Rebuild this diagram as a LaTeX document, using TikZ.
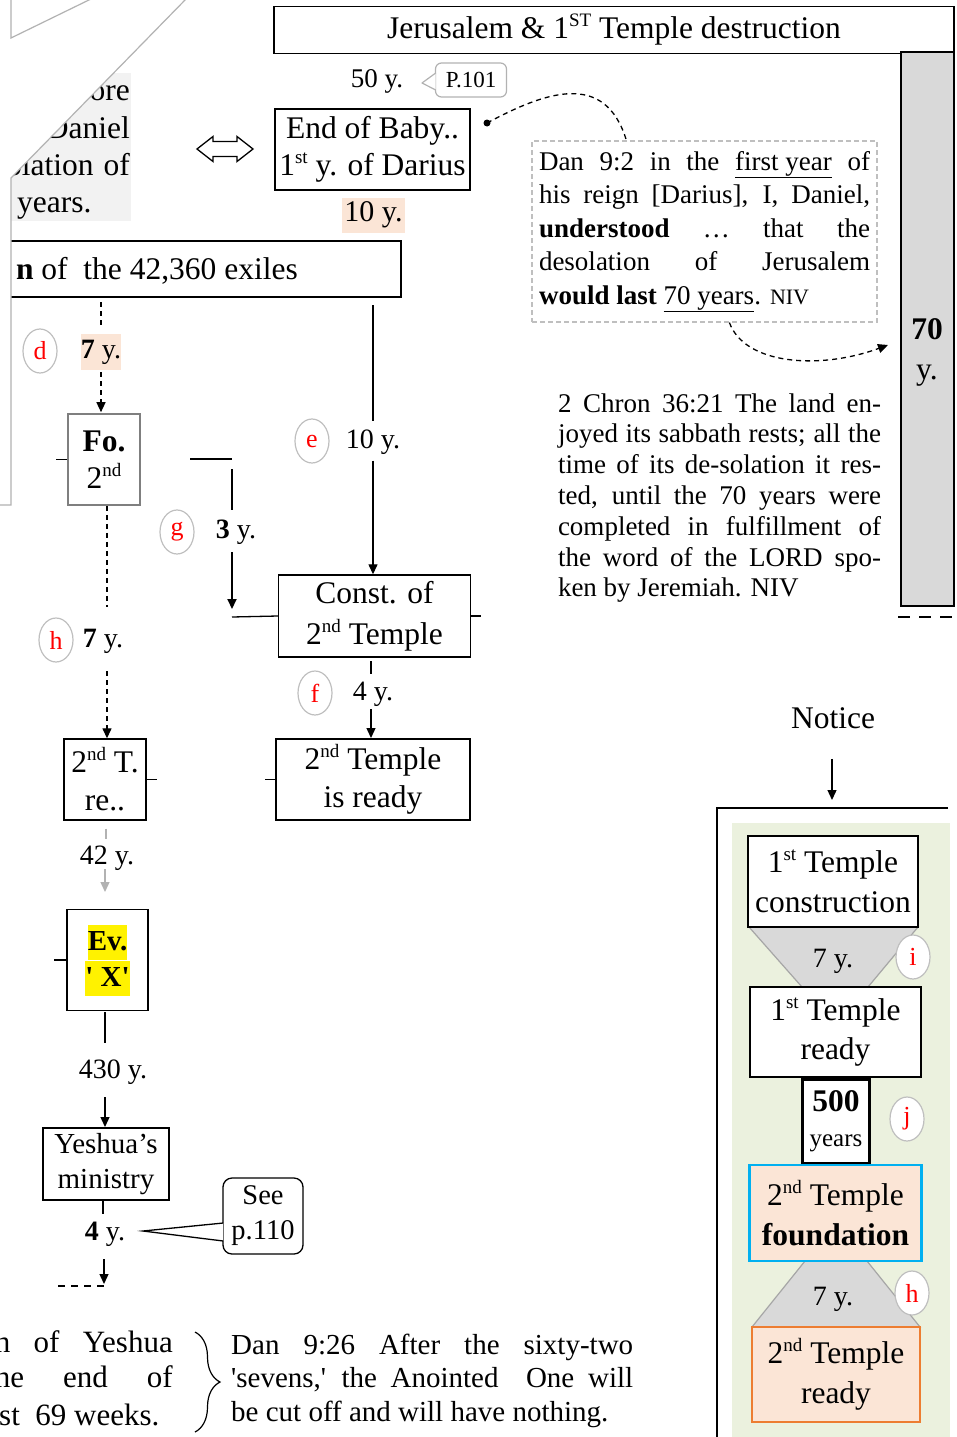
\documentclass[tikz,border=0pt]{standalone}
\usepackage{fontspec}
\setmainfont{Liberation Serif}[Ligatures=TeXOff]
\usetikzlibrary{shapes.geometric,arrows.meta,calc,decorations.pathreplacing}
\definecolor{peach}{HTML}{FBE5D6}
\definecolor{barGray}{HTML}{D9D9D9}
\definecolor{lightGray}{HTML}{F2F2F2}
\definecolor{paleGreen}{HTML}{EBF1DE}
\definecolor{cyanB}{HTML}{00B0F0}
\definecolor{orangeB}{HTML}{ED7D31}
\definecolor{circGray}{HTML}{BFBFBF}
\definecolor{boxGray}{HTML}{7F7F7F}
\newcommand\fntBox[1]{\fontsize{31.5}{#1}\selectfont}
\newcommand\fntLbl{\fontsize{28}{34}\selectfont}
\newcommand\fntTxt[1]{\fontsize{27}{#1}\selectfont}
\newcommand\supx[1]{\raisebox{12pt}{\fontsize{19}{19}\selectfont #1}}
\newcommand\hlt[1]{{\fboxsep=0pt\colorbox{yellow}{\rule[-9pt]{0pt}{35pt}#1}}}
\newcommand\jl[2]{\makebox[#1][s]{#2}}
\begin{document}
\begin{tikzpicture}[x=1pt,y=-1pt,
  bx/.style={draw, line width=1.4pt, inner sep=0pt, align=center},
  lbl/.style={inner sep=0pt, font=\fntLbl, align=center},
  circ/.style={ellipse, draw=circGray, line width=1.2pt, minimum width=34pt, minimum height=44pt, inner sep=0pt, text=red, font=\fontsize{26}{30}\selectfont},
  tip/.style={-{Triangle[length=10pt,width=9pt]}},
  ln/.style={line width=1.3pt},
  dsh/.style={line width=1.3pt, dash pattern=on 5pt off 4pt},
  tk/.style={line width=1.3pt},
  trap/.style={fill=barGray, draw=gray!70, line width=1.2pt},
]
\useasboundingbox (0,0) rectangle (956,1437);
\clip (0,0) rectangle (956,1437);

% ---------- top ----------
\node[bx, minimum width=680pt, minimum height=47pt, font=\fntBox{37}] (title) at (614,30) {Jerusalem \& 1\supx{ST} Temple destruction};
\node[bx, fill=barGray, line width=1.6pt, minimum width=53pt, minimum height=554pt] (bar) at (927.5,329) {};
\node[lbl, font=\fontsize{31.5}{40}\selectfont] (barlbl) at (927,352) {\textbf{70}\\y.};
\draw[line width=2.5pt, dash pattern=on 12pt off 9pt] ($(bar.south west)+(-2,10)$) -- ($(bar.south east)+(6,10)$);

\node[lbl, font=\fontsize{27}{32}\selectfont] (y50) at (377,81) {50 y.};
\node[draw=gray!60, line width=1.2pt, rounded corners=6pt, minimum width=71pt, minimum height=34pt, inner sep=0pt, font=\fontsize{23}{28}\selectfont] (p101) at (471,80) {P.101};
\coordinate (p101tip) at (422,83);
\filldraw[fill=white, draw=gray!60, line width=1.2pt, line join=round] ($(p101.west)+(0.8,-7)$) -- (p101tip) -- ($(p101.west)+(0.8,10)$);

\node[bx, minimum width=195pt, minimum height=81pt, font=\fntBox{37}] (baby) at (372.5,149.5) {End of Baby..\\1\supx{st} y. of Darius};
\filldraw[fill=white, line width=1.3pt, line join=miter] (197,149) -- (213,136.5) -- (213,141.5) -- (237,141.5) -- (237,136.5) -- (253,149) -- (237,161.5) -- (237,156.5) -- (213,156.5) -- (213,161.5) -- cycle;
\node[lbl, fill=peach, minimum width=63pt, minimum height=35pt, font=\fontsize{30}{34}\selectfont] (ten) at (373.5,215) {10 y.};

\node[draw=circGray, line width=1.2pt, dash pattern=on 5pt off 3pt, minimum width=345pt, minimum height=181pt, inner sep=0pt, align=left, font=\fntTxt{33.5}] (dan) at (704.5,231.5)
{\jl{331pt}{Dan 9:2 in the \underline{first year} of}\\
 \jl{331pt}{his reign [Darius], I, Daniel,}\\
 \jl{331pt}{\textbf{understood} … that the}\\
 \jl{331pt}{desolation of Jerusalem}\\
 \textbf{would last} \underline{70 years}. {\fontsize{22}{26}\selectfont NIV}};
\coordinate (dotA) at (487,123);
\fill (dotA) circle (3.5);
\draw[dsh] (dotA) .. controls (545,92) and (605,70) .. ($(dan.north west)+(95,0)$);
\coordinate (arrTip) at (888,345);
\draw[dsh, tip] ($(dan.south west)+(198,0)$) .. controls (745,365) and (820,370) .. (arrTip);

\node[inner sep=0pt, align=left, font=\fntTxt{30.8}] (chron) at (719.5,498)
{\jl{323pt}{2 Chron 36:21 The land en-}\\
 \jl{323pt}{joyed its sabbath rests; all the}\\
 \jl{323pt}{time of its de-solation it res-}\\
 \jl{323pt}{ted, until the 70 years were}\\
 \jl{323pt}{completed in fulfillment of}\\
 \jl{323pt}{the word of the LORD spo-}\\
 ken by Jeremiah. NIV};

% ---------- left ----------
\node[draw, line width=2.5pt, minimum width=421pt, minimum height=56pt, inner sep=0pt] (exiles) at (190.5,269) {};
\node[inner sep=0pt, anchor=base east, font=\fntBox{37}] (exilestxt) at (298,279) {\textbf{n} of\ \ the 42,360 exiles};

\fill[lightGray] (0,73) rectangle (131,221);
\node[inner sep=0pt, anchor=base east, font=\fntBox{37}] (gA) at (130,100) {ore};
\node[inner sep=0pt, anchor=base east, font=\fntBox{37}] (gB) at (130,138) {Daniel};
\node[inner sep=0pt, anchor=base east, font=\fntBox{37}] (gC) at (130,175) {desolation\hspace{10pt}of};
\node[inner sep=0pt, anchor=base west, font=\fntBox{37}] (gD) at (17,212) {years.};
\fill[white] (-2,-2) -- (187,-2) -- (11,178) -- (11,505) -- (-2,505) -- cycle;
\draw[gray!60, line width=1.2pt] (187,-2) -- (11,178) -- (11,505) -- (-2,505);
\draw[gray!60, line width=1.2pt] (11,-2) -- (11,38) -- (93,-2);

% d branch
\node[lbl, fill=peach, minimum height=36pt] (sevenD) at (101,352) {\textbf{7} y.};
\node[circ] (cd) at (40,351) {d};
\node[bx, draw=boxGray, line width=1.6pt, minimum width=72pt, minimum height=91pt, font=\fntBox{37}] (fo) at (104,459.5) {\textbf{Fo.}\\2\supx{nd}};
\draw[dsh] (exiles.south -| sevenD) ++(0,4) -- ++(0,24);
\draw[dsh, tip] ($(sevenD.south)+(0,2)$) -- ($(fo.north)+(-3,-1)$);
\draw[tk] (fo.west) -- ++(-11,0);

% g branch
\coordinate (gA1) at (190,459);
\coordinate (gA2) at (232,459);
\draw[ln] (gA1) -- (gA2);
\draw[line width=2pt] (232,469) -- (232,510);
\node[lbl] (threeY) at (236,532) {\textbf{3} y.};
\node[circ] (cg) at (177,532) {g};
\coordinate (gB1) at (232,552);
\coordinate (gB2) at (232,609);
\draw[line width=2pt, tip] (gB1) -- (gB2);

% e branch
\node[bx, minimum width=192pt, minimum height=82pt, font=\fntBox{41}] (const) at (374.5,616) {Const. of\\2\supx{nd} Temple};
\draw[ln] (232,617) -- (const.west);
\draw[tk] (const.east) -- ++(10,0);
\node[lbl] (tenE) at (373,442) {10 y.};
\node[circ] (ce) at (312,441) {e};
\draw[ln] (373,305) -- ($(tenE.north)+(0,-8)$);
\draw[ln, tip] ($(tenE.south)+(0,6)$) -- (const.north -| tenE);

% f branch
\node[lbl] (fourF) at (373,694) {4 y.};
\node[circ] (cf) at (315,693) {f};
\node[bx, minimum width=194pt, minimum height=81pt, font=\fntBox{38}] (ready) at (373,779.5) {2\supx{nd} Temple\\is ready};
\draw[tk] (ready.west) -- ++(-10,0);
\draw[ln] (371,661) -- (371,674);
\draw[ln, tip] (371,709) -- (371,738);

% h branch
\node[bx, minimum width=82pt, minimum height=81pt, font=\fntBox{38}] (tr) at (105,779.5) {2\supx{nd} T.\\re..};
\draw[tk] (tr.east) -- ++(10,0);
\node[lbl] (sevenH) at (103,641) {\textbf{7} y.};
\node[circ] (ch) at (56,640) {h};
\draw[dsh] ($(fo.south)+(3,0)$) -- (107,607);
\draw[dsh, tip] (107,671) -- ($(tr.north)+(2,0)$);

% lower left chain
\node[lbl] (fortyTwo) at (107,858) {42 y.};
\draw[gray!60, line width=1.3pt] ($(tr.south)+(1,8)$) -- ($(tr.south)+(1,18)$);
\draw[gray!60, line width=1.3pt, tip] (105,869) -- (105,892);
\node[bx, minimum width=81pt, minimum height=101pt, font=\fontsize{29}{36}\selectfont] (ev) at (107.5,960) {\hlt{\textbf{Ev.}}\\\hlt{\textbf{' X'}}};
\draw[tk] (ev.west) -- ++(-12,0);
\node[lbl] (fourThirty) at (113,1072) {430 y.};
\node[bx, minimum width=126pt, minimum height=72pt, font=\fontsize{29}{35}\selectfont] (yesh) at (106,1164) {Yeshua’s\\ministry};
\draw[ln] (105,1012) -- (105,1043);
\draw[ln, tip] (105,1097) -- (105,1127);
\node[lbl] (fourY) at (105,1234) {\textbf{4} y.};
\draw[ln] (103,1201) -- (103,1214);
\coordinate (yEnd) at (104,1284);
\draw[ln, tip] (104,1259) -- (yEnd);
\draw[ln, dash pattern=on 7pt off 6pt] (58,1286) -- (104,1286);

\node[draw, line width=1.3pt, rounded corners=9pt, minimum width=80pt, minimum height=76pt, inner sep=0pt, font=\fontsize{28.5}{35}\selectfont, align=center] (see) at (263,1216) {See\\p.110};
\coordinate (seeTip) at (143,1231);
\filldraw[fill=white, line width=1.3pt, line join=miter] ($(see.west)+(0.8,7)$) -- (seeTip) -- ($(see.west)+(0.8,25)$);

% bottom texts
\node[inner sep=0pt, anchor=base east, font=\fontsize{31}{36}\selectfont] (bl1) at (173,1352) {\jl{178pt}{h of Yeshua}};
\node[inner sep=0pt, anchor=base east, font=\fontsize{31}{36}\selectfont] (bl2) at (173,1387) {\jl{178pt}{he end of}};
\node[inner sep=0pt, anchor=base west, font=\fontsize{31}{36}\selectfont] (bl3) at (-1,1425) {st\ \ 69 weeks.};
\coordinate (brTop) at (195,1332);
\coordinate (brBot) at (195,1432);
\draw[line width=1.2pt, decorate, decoration={brace, amplitude=25pt}] (brTop) -- (brBot);
\node[inner sep=0pt, anchor=base west, align=left, font=\fontsize{29}{33.5}\selectfont] (dan26) at (231,1421)
{\jl{402pt}{Dan 9:26 After the sixty-two}\\
 \jl{402pt}{'sevens,' the Anointed\ \ One will}\\
 be cut off and will have nothing.};

% ---------- right ----------
\node[inner sep=0pt, font=\fntBox{37}] (notice) at (833,718) {Notice};
\coordinate (frameTop) at (832,800);
\draw[ln, tip] ($(notice.south)+(-1,30)$) -- (frameTop);
\draw[line width=1.6pt] (948,808) -- (717,808) -- (717,1440);
\fill[paleGreen] (732,823) rectangle (950,1440);
\filldraw[trap] (749,927) -- (918,927) -- (868,987) -- (802,987) -- cycle;
\filldraw[trap] (805,1261) -- (867,1261) -- (920,1327) -- (752,1327) -- cycle;
\node[bx, fill=white, minimum width=170pt, minimum height=91pt, font=\fntBox{40}] (t1c) at (833,881.5) {1\supx{st} Temple\\construction};
\node[lbl] (t1y) at (833,961) {7 y.};
\node[bx, fill=white, minimum width=171pt, minimum height=90pt, font=\fntBox{39}] (t1r) at (835.5,1032) {1\supx{st} Temple\\ready};
\node[bx, fill=white, line width=2.6pt, minimum width=67pt, minimum height=84pt, font=\fntBox{35}] (t500) at (836,1121.5) {\textbf{500}\\{\fontsize{25}{30}\selectfont years}};
\node[bx, fill=peach, draw=cyanB, line width=2.8pt, minimum width=172pt, minimum height=96pt, font=\fntBox{40}] (t2f) at (835.5,1213) {2\supx{nd} Temple\\\textbf{foundation}};
\node[lbl] (t2y) at (833,1299) {7 y.};
\node[bx, fill=peach, draw=orangeB, line width=1.6pt, minimum width=168pt, minimum height=95pt, font=\fntBox{40}] (t2r) at (836,1374.5) {2\supx{nd} Temple\\ready};
\node[circ, fill=white] (ci) at (913,957) {i};
\node[circ, fill=white] (cj) at (907,1119) {j};
\node[circ, fill=white] (ch2) at (912,1293) {h};
\end{tikzpicture}
\end{document}
